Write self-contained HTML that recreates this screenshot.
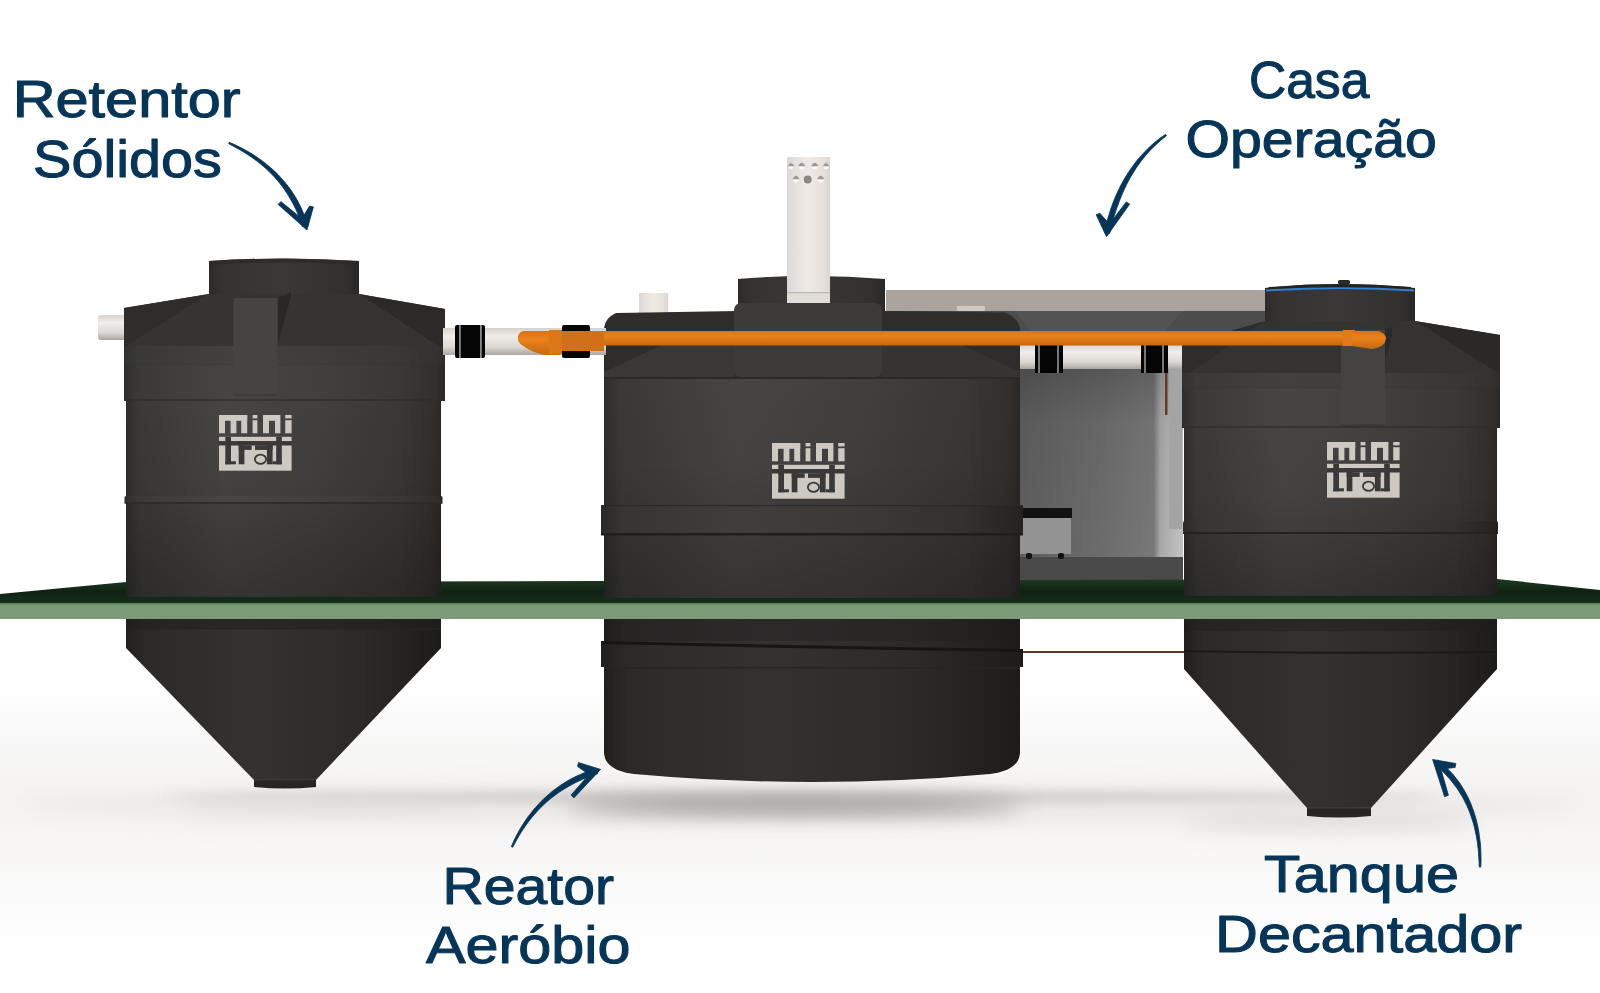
<!DOCTYPE html>
<html><head><meta charset="utf-8">
<style>
html,body{margin:0;padding:0;background:#fff;width:1600px;height:993px;overflow:hidden}
svg{display:block}
text.lb{font-family:"Liberation Sans",sans-serif;font-weight:normal;fill:#073558;stroke:#073558;stroke-width:1.1px;stroke-linejoin:round}
</style></head><body>
<svg width="1600" height="993" viewBox="0 0 1600 993">
<defs>
  <linearGradient id="body" x1="0" y1="0" x2="1" y2="0">
    <stop offset="0" stop-color="#2e2d2c"/>
    <stop offset="0.04" stop-color="#3a3938"/>
    <stop offset="0.32" stop-color="#474544"/>
    <stop offset="0.6" stop-color="#42403e"/>
    <stop offset="0.86" stop-color="#3a3735"/>
    <stop offset="0.97" stop-color="#322f2d"/>
    <stop offset="1" stop-color="#2a2725"/>
  </linearGradient>
  <linearGradient id="bodyD" x1="0" y1="0" x2="1" y2="0">
    <stop offset="0" stop-color="#2a2928"/>
    <stop offset="0.05" stop-color="#363534"/>
    <stop offset="0.32" stop-color="#403e3d"/>
    <stop offset="0.6" stop-color="#3c3a39"/>
    <stop offset="0.86" stop-color="#333130"/>
    <stop offset="1" stop-color="#242120"/>
  </linearGradient>
  <linearGradient id="low" x1="0" y1="0" x2="1" y2="0">
    <stop offset="0" stop-color="#201f1e"/>
    <stop offset="0.06" stop-color="#2b2a29"/>
    <stop offset="0.4" stop-color="#333231"/>
    <stop offset="0.75" stop-color="#2c2a29"/>
    <stop offset="1" stop-color="#1e1c1b"/>
  </linearGradient>
  <linearGradient id="dome" x1="0" y1="0" x2="1" y2="0">
    <stop offset="0" stop-color="#2c2b2a"/>
    <stop offset="0.1" stop-color="#353433"/>
    <stop offset="0.5" stop-color="#393837"/>
    <stop offset="0.9" stop-color="#333130"/>
    <stop offset="1" stop-color="#2a2827"/>
  </linearGradient>
  <linearGradient id="vsh" x1="0" y1="0" x2="0" y2="1">
    <stop offset="0" stop-color="#000" stop-opacity="0"/>
    <stop offset="0.4" stop-color="#000" stop-opacity="0.04"/>
    <stop offset="1" stop-color="#000" stop-opacity="0.25"/>
  </linearGradient>
  <linearGradient id="vshTop" x1="0" y1="0" x2="0" y2="1">
    <stop offset="0" stop-color="#000" stop-opacity="0.18"/>
    <stop offset="1" stop-color="#000" stop-opacity="0"/>
  </linearGradient>
  <linearGradient id="wall" x1="0" y1="0" x2="1" y2="0">
    <stop offset="0" stop-color="#5e5e5e"/>
    <stop offset="0.5" stop-color="#6c6c6c"/>
    <stop offset="0.82" stop-color="#787878"/>
    <stop offset="0.86" stop-color="#a8a8a8"/>
    <stop offset="1" stop-color="#c4c4c4"/>
  </linearGradient>
  <linearGradient id="wallV" x1="0" y1="0" x2="0" y2="1">
    <stop offset="0" stop-color="#000" stop-opacity="0.3"/>
    <stop offset="0.4" stop-color="#000" stop-opacity="0.05"/>
    <stop offset="1" stop-color="#000" stop-opacity="0"/>
  </linearGradient>
  <linearGradient id="pipeW" x1="0" y1="0" x2="0" y2="1">
    <stop offset="0" stop-color="#d6d1cc"/>
    <stop offset="0.3" stop-color="#f1eeeb"/>
    <stop offset="0.7" stop-color="#dcd8d4"/>
    <stop offset="1" stop-color="#aaa6a2"/>
  </linearGradient>
  <linearGradient id="pipeV" x1="0" y1="0" x2="1" y2="0">
    <stop offset="0" stop-color="#d9d8d7"/>
    <stop offset="0.15" stop-color="#e2e0df"/>
    <stop offset="0.5" stop-color="#efe9e5"/>
    <stop offset="0.85" stop-color="#e8e0da"/>
    <stop offset="1" stop-color="#dcd4ce"/>
  </linearGradient>
  <linearGradient id="orange" x1="0" y1="0" x2="0" y2="1">
    <stop offset="0" stop-color="#d8721a"/>
    <stop offset="0.35" stop-color="#ea821a"/>
    <stop offset="1" stop-color="#c66812"/>
  </linearGradient>
  <linearGradient id="greenTop" x1="0" y1="0" x2="0" y2="1">
    <stop offset="0" stop-color="#1f3a22"/>
    <stop offset="0.5" stop-color="#0f2212"/>
    <stop offset="1" stop-color="#17301a"/>
  </linearGradient>
  <linearGradient id="bgv" x1="0" y1="0" x2="0" y2="1">
    <stop offset="0" stop-color="#f3f2f1" stop-opacity="0"/>
    <stop offset="0.38" stop-color="#f3f2f1" stop-opacity="1"/>
    <stop offset="0.55" stop-color="#f6f5f4" stop-opacity="0.8"/>
    <stop offset="0.8" stop-color="#fbfbfb" stop-opacity="0.5"/>
    <stop offset="1" stop-color="#ffffff" stop-opacity="0"/>
  </linearGradient>
  <filter id="bl10" x="-30%" y="-300%" width="160%" height="700%"><feGaussianBlur stdDeviation="10"/></filter>
  <filter id="bl6" x="-30%" y="-300%" width="160%" height="700%"><feGaussianBlur stdDeviation="6"/></filter>
  <filter id="bl1"><feGaussianBlur stdDeviation="0.6"/></filter>

  
</defs>

<!-- ground shadows -->
<rect x="0" y="680" width="1600" height="313" fill="url(#bgv)"/>
<ellipse cx="800" cy="806" rx="780" ry="16" fill="#ebe9e7" filter="url(#bl10)"/>
<ellipse cx="800" cy="797" rx="640" ry="4" fill="#c2c0be" filter="url(#bl6)"/>
<ellipse cx="795" cy="806" rx="230" ry="8" fill="#92908e" filter="url(#bl10)"/>
<ellipse cx="330" cy="806" rx="150" ry="6" fill="#dedcda" filter="url(#bl10)"/>
<ellipse cx="1330" cy="822" rx="150" ry="6" fill="#d6d4d2" filter="url(#bl10)"/>
<!-- ================= CASA (behind) ================= -->
<g>
  <rect x="886" y="290" width="382" height="21" fill="#aba49e"/>
  <rect x="886" y="311" width="382" height="22" fill="#4c4c4c"/>
  <polygon points="1015,311 1183,311 1165,331 1030,331" fill="#535353"/>
  <rect x="957" y="306" width="28" height="5" rx="1" fill="#cfc9c4"/>
  <rect x="1020" y="333" width="163" height="226" fill="url(#wall)"/>
  <rect x="1020" y="333" width="163" height="226" fill="url(#wallV)"/>
  <rect x="1169" y="369" width="13" height="160" fill="#a4a4a4"/>
  <rect x="1020" y="557" width="163" height="31" fill="#4a4a4a"/>
  <rect x="1020" y="517" width="51" height="37" fill="#939393"/>
  <rect x="1020" y="508" width="52" height="10" fill="#121212"/>
  <rect x="1026" y="553" width="6" height="6" rx="2" fill="#111"/>
  <rect x="1058" y="553" width="6" height="6" rx="2" fill="#111"/>
  <rect x="1020" y="345" width="163" height="24" fill="url(#pipeW)"/>
  <rect x="1035" y="344" width="28" height="29" fill="#050505"/>
  <rect x="1038" y="344" width="2" height="29" fill="#777"/>
  <rect x="1057" y="344" width="2" height="29" fill="#777"/>
  <rect x="1141" y="344" width="27" height="29" fill="#050505"/>
  <rect x="1144" y="344" width="2" height="29" fill="#777"/>
  <rect x="1162" y="344" width="2" height="29" fill="#777"/>
  <rect x="1165" y="373" width="2.5" height="42" fill="#6b3c1c"/>
</g>

<!-- green plate -->
<polygon points="0,594 126,582 1497,579 1600,590 1600,604 0,604" fill="url(#greenTop)"/>
<rect x="0" y="603" width="1600" height="16" fill="#7b9b78"/>
<rect x="0" y="603" width="1600" height="1.5" fill="#5e7e5c"/>

<!-- ================= LEFT TANK ================= -->
<g>
  <rect x="98" y="315" width="28" height="25" rx="3" fill="url(#pipeW)"/>
  <path d="M209,261 Q284,256 359,261 L359,296 L209,296 Z" fill="url(#dome)"/>
  <path d="M209,261 Q284,256 359,261 L359,265 Q284,260 209,265 Z" fill="#2a2928" opacity="0.7"/>
  <!-- shoulder -->
  <path d="M124,308 L209,294 L359,294 L445,309 L445,401 L124,401 Z" fill="url(#body)"/>
  <path d="M124,308 L209,294 L126,346 L124,346 Z" fill="#2e2d2c"/>
  <path d="M445,309 L359,294 L438,346 L445,346 Z" fill="#2b2a29"/>
  <path d="M209,294 L359,294 L438,346 L126,346 Z" fill="#353433"/>
  <rect x="124" y="346" width="321" height="18" fill="#3a3938" opacity="0.35"/>
  <rect x="124" y="364" width="321" height="1.2" fill="#333231" opacity="0.4"/>
  <!-- body -->
  <rect x="126" y="401" width="315" height="196" fill="url(#body)"/>
  <rect x="126" y="401" width="315" height="196" fill="url(#vsh)"/>
  <rect x="124" y="399" width="321" height="2" fill="#2e2d2c" opacity="0.7"/>
  <rect x="124.5" y="496" width="318" height="7" rx="1.5" fill="url(#body)"/>
  <rect x="124.5" y="502" width="318" height="2" fill="#2a2928" opacity="0.8"/>
  <!-- handle -->
  <path d="M278,298 L291,292 L291,296 L278,344 Z" fill="#2a2827"/>
  <rect x="233.5" y="298" width="44" height="97.5" fill="#454443"/>
  <rect x="233.5" y="394.5" width="44" height="1.5" fill="#333231" opacity="0.6"/>
  <g transform="translate(219,415)">
    <g fill="#cdc8c2">
      <rect x="0" y="0" width="28.2" height="5.8"/>
      <rect x="0" y="0" width="6" height="18.3"/>
      <rect x="11.6" y="0" width="5.8" height="18.3"/>
      <rect x="22.2" y="0" width="6" height="18.3"/>
      <rect x="33.6" y="0" width="4.8" height="3.4"/>
      <rect x="33.6" y="5.2" width="4.8" height="13.1"/>
      <rect x="44" y="0" width="17" height="5.8"/>
      <rect x="44" y="0" width="6" height="18.3"/>
      <rect x="56" y="0" width="5.4" height="18.3"/>
      <rect x="66.2" y="0" width="6.4" height="3.4"/>
      <rect x="66.2" y="5.2" width="6.4" height="13.1"/>
      <rect x="0" y="21.8" width="72.6" height="4.4"/>
      <rect x="0" y="30.3" width="72.6" height="25.4"/>
    </g>
    <g fill="#3a3938">
      <rect x="6.3" y="21.8" width="5.7" height="27.5"/>
      <rect x="6.3" y="46.3" width="10.6" height="3"/>
      <rect x="19.7" y="26.2" width="5.7" height="23.1"/>
      <rect x="19.7" y="30.3" width="13" height="4.6"/>
      <rect x="47.9" y="26.2" width="5.7" height="23.1"/>
      <rect x="36" y="30.3" width="17.6" height="4.6"/>
      <rect x="57.2" y="21.8" width="5.6" height="27.5"/>
      <rect x="53.6" y="46.3" width="9.2" height="3"/>
      <rect x="0" y="26.2" width="72.6" height="4.1"/>
    </g>
    <ellipse cx="41.5" cy="44.2" rx="5.6" ry="4.6" fill="#cdc8c2" stroke="#3a3938" stroke-width="1.8"/>
  </g>
  <!-- lower -->
  <path d="M126,619 L441,619 L441,648 L316,780 L254,780 L126,648 Z" fill="url(#low)"/>
  <rect x="126" y="619" width="315" height="10" fill="#1e1d1c" opacity="0.5"/>
  <rect x="126" y="628" width="315" height="1.5" fill="#252423" opacity="0.8"/>
  <path d="M254,780 L316,780 L316,787 Q285,790 254,787 Z" fill="#262524"/>
  <rect x="254" y="779" width="62" height="1.5" fill="#3a3938"/>
</g>

<!-- ================= CENTRAL TANK ================= -->
<g>
  <rect x="639" y="293" width="29" height="21" fill="url(#pipeV)"/>
  <path d="M738,279 Q811,273 885,279 L885,312 L738,312 Z" fill="url(#dome)"/>
  <!-- shoulder -->
  <path d="M604,328 Q605,318 616,313 L738,311 L885,311 L1005,312.5 Q1018,318 1020,328 L1020,379 L604,379 Z" fill="#2e2d2c"/>
  <path d="M604,379 L604,372 L662,345 L734,345 L734,379 Z" fill="#393837"/>
  <path d="M1020,379 L1020,372 L962,345 L882,345 L882,379 Z" fill="#353433"/>
  <rect x="734" y="303" width="148" height="74" rx="7" fill="#3c3b3a"/>
  <rect x="604" y="377" width="416" height="2" fill="#2a2928"/>
  <!-- vent pipe -->
  <rect x="787" y="157" width="43" height="146" fill="url(#pipeV)"/>
  <rect x="787" y="293" width="43" height="10" fill="#e0dcd8"/>
  <rect x="787" y="292" width="43" height="1.2" fill="#b8b4b0"/>
  <g>
    <path d="M787.5,166.5 Q791,159.5 794.5,166.5 Z" fill="#9d9995"/>
    <path d="M798,166.5 Q801.7,159 805.5,166.5 Z" fill="#9d9995"/>
    <path d="M811,166.5 Q814.8,159 818.6,166.5 Z" fill="#9d9995"/>
    <path d="M822.5,166.5 Q826,159.5 829.5,166.5 Z" fill="#9d9995"/>
    <path d="M788,166.5 Q791,172 794,166.5 Z" fill="#fbfaf9"/>
    <path d="M798,166.5 Q801.7,173 805.5,166.5 Z" fill="#fbfaf9"/>
    <path d="M811,166.5 Q814.8,173 818.6,166.5 Z" fill="#fbfaf9"/>
    <path d="M823,166.5 Q826,172 829,166.5 Z" fill="#fbfaf9"/>
    <path d="M792.5,179.5 Q796,172 799.5,179.5 Z" fill="#9d9995"/>
    <path d="M817,179.5 Q820.8,172 824.5,179.5 Z" fill="#9d9995"/>
    <path d="M792.5,179.5 Q796,186 799.5,179.5 Z" fill="#fbfaf9"/>
    <path d="M817,179.5 Q820.8,186 824.5,179.5 Z" fill="#fbfaf9"/>
    <circle cx="807.7" cy="179.5" r="4" fill="#8a8784"/>
  </g>
  <!-- body -->
  <rect x="604" y="379" width="416" height="219" fill="url(#body)"/>
  <rect x="604" y="379" width="416" height="219" fill="url(#vsh)"/>
  <rect x="601" y="505" width="422" height="30" rx="2" fill="url(#bodyD)"/>
  <rect x="601" y="533" width="422" height="2.5" fill="#1f1e1d"/>
  <rect x="601" y="505" width="422" height="1.2" fill="#2a2928"/>
  <g transform="translate(772,443)">
    <g fill="#cdc8c2">
      <rect x="0" y="0" width="28.2" height="5.8"/>
      <rect x="0" y="0" width="6" height="18.3"/>
      <rect x="11.6" y="0" width="5.8" height="18.3"/>
      <rect x="22.2" y="0" width="6" height="18.3"/>
      <rect x="33.6" y="0" width="4.8" height="3.4"/>
      <rect x="33.6" y="5.2" width="4.8" height="13.1"/>
      <rect x="44" y="0" width="17" height="5.8"/>
      <rect x="44" y="0" width="6" height="18.3"/>
      <rect x="56" y="0" width="5.4" height="18.3"/>
      <rect x="66.2" y="0" width="6.4" height="3.4"/>
      <rect x="66.2" y="5.2" width="6.4" height="13.1"/>
      <rect x="0" y="21.8" width="72.6" height="4.4"/>
      <rect x="0" y="30.3" width="72.6" height="25.4"/>
    </g>
    <g fill="#3a3938">
      <rect x="6.3" y="21.8" width="5.7" height="27.5"/>
      <rect x="6.3" y="46.3" width="10.6" height="3"/>
      <rect x="19.7" y="26.2" width="5.7" height="23.1"/>
      <rect x="19.7" y="30.3" width="13" height="4.6"/>
      <rect x="47.9" y="26.2" width="5.7" height="23.1"/>
      <rect x="36" y="30.3" width="17.6" height="4.6"/>
      <rect x="57.2" y="21.8" width="5.6" height="27.5"/>
      <rect x="53.6" y="46.3" width="9.2" height="3"/>
      <rect x="0" y="26.2" width="72.6" height="4.1"/>
    </g>
    <ellipse cx="41.5" cy="44.2" rx="5.6" ry="4.6" fill="#cdc8c2" stroke="#3a3938" stroke-width="1.8"/>
  </g>
  <!-- lower -->
  <path d="M604,619 L1020,619 L1020,752 Q1020,770 990,774 Q812,790 634,774 Q604,770 604,752 Z" fill="url(#low)"/>
  <rect x="604" y="619" width="416" height="22" fill="#1f1e1d" opacity="0.35"/>
  <path d="M601,641 Q812,646 1023,649 L1023,667 Q812,668 601,667 Z" fill="url(#low)"/>
  <path d="M601,641 Q812,646 1023,649 L1023,652 Q812,649 601,644 Z" fill="#161514"/>
  <rect x="604" y="667" width="416" height="1.5" fill="#262524"/>
</g>

<!-- ================= RIGHT TANK ================= -->
<g>
  <path d="M1265,288 Q1340,280 1415,288 L1415,323 L1265,323 Z" fill="url(#dome)"/>
  <path d="M1269,287 Q1340,281 1411,287 L1411,290 L1269,290 Z" fill="#242322"/>
  <rect x="1338" y="280" width="12" height="4" rx="1.5" fill="#2a2928"/>
  <path d="M1266,290.5 Q1340,286 1414,290.5" stroke="#2f80d4" stroke-width="1.8" fill="none"/>
  <path d="M1182,345 L1265,321 L1415,321 L1500,335 L1500,428 L1182,428 Z" fill="url(#body)"/>
  <path d="M1182,345 L1265,321 L1190,373 L1182,373 Z" fill="#2e2d2c"/>
  <path d="M1500,335 L1415,321 L1498,373 L1500,373 Z" fill="#2a2928"/>
  <path d="M1265,321 L1415,321 L1498,373 L1190,373 Z" fill="#343332"/>
  <rect x="1182" y="373" width="318" height="14" fill="#3a3938" opacity="0.35"/>
  <rect x="1182" y="387" width="318" height="1.2" fill="#333231" opacity="0.4"/>
  <rect x="1184" y="428" width="313" height="168" fill="url(#body)"/>
  <rect x="1184" y="428" width="313" height="168" fill="url(#vsh)"/>
  <rect x="1182" y="426" width="318" height="2" fill="#2e2d2c" opacity="0.7"/>
  <rect x="1183" y="521" width="315" height="12" rx="2" fill="url(#bodyD)"/>
  <rect x="1183" y="532" width="315" height="2" fill="#232221"/>
  <path d="M1385,330 L1392,327 L1392,336 L1385,360 Z" fill="#2a2827"/>
  <rect x="1341" y="330" width="44" height="95.5" fill="#444342"/>
  <rect x="1341" y="424.5" width="44" height="1.5" fill="#333231" opacity="0.6"/>
  <g transform="translate(1327,442)">
    <g fill="#cdc8c2">
      <rect x="0" y="0" width="28.2" height="5.8"/>
      <rect x="0" y="0" width="6" height="18.3"/>
      <rect x="11.6" y="0" width="5.8" height="18.3"/>
      <rect x="22.2" y="0" width="6" height="18.3"/>
      <rect x="33.6" y="0" width="4.8" height="3.4"/>
      <rect x="33.6" y="5.2" width="4.8" height="13.1"/>
      <rect x="44" y="0" width="17" height="5.8"/>
      <rect x="44" y="0" width="6" height="18.3"/>
      <rect x="56" y="0" width="5.4" height="18.3"/>
      <rect x="66.2" y="0" width="6.4" height="3.4"/>
      <rect x="66.2" y="5.2" width="6.4" height="13.1"/>
      <rect x="0" y="21.8" width="72.6" height="4.4"/>
      <rect x="0" y="30.3" width="72.6" height="25.4"/>
    </g>
    <g fill="#3a3938">
      <rect x="6.3" y="21.8" width="5.7" height="27.5"/>
      <rect x="6.3" y="46.3" width="10.6" height="3"/>
      <rect x="19.7" y="26.2" width="5.7" height="23.1"/>
      <rect x="19.7" y="30.3" width="13" height="4.6"/>
      <rect x="47.9" y="26.2" width="5.7" height="23.1"/>
      <rect x="36" y="30.3" width="17.6" height="4.6"/>
      <rect x="57.2" y="21.8" width="5.6" height="27.5"/>
      <rect x="53.6" y="46.3" width="9.2" height="3"/>
      <rect x="0" y="26.2" width="72.6" height="4.1"/>
    </g>
    <ellipse cx="41.5" cy="44.2" rx="5.6" ry="4.6" fill="#cdc8c2" stroke="#3a3938" stroke-width="1.8"/>
  </g>
  <!-- lower -->
  <path d="M1184,619 L1497,619 L1497,669 L1371,808 L1307,808 L1184,669 Z" fill="url(#low)"/>
  <rect x="1184" y="619" width="313" height="12" fill="#1e1d1c" opacity="0.45"/>
  <path d="M1184,650 Q1340,653 1497,651 L1497,653 Q1340,655 1184,652 Z" fill="#1a1918"/>
  <path d="M1307,808 L1371,808 L1371,816 Q1339,819 1307,816 Z" fill="#262524"/>
  <rect x="1307" y="807" width="64" height="1.5" fill="#3a3938"/>
  <rect x="1023" y="651" width="161" height="2" fill="#5a3a22"/>
</g>

<!-- pipes between tanks -->
<rect x="443" y="328" width="163" height="27" fill="url(#pipeW)"/>
<rect x="455" y="325" width="30" height="33" rx="2" fill="#050505"/>
<rect x="459" y="325" width="1.8" height="33" fill="#888"/>
<rect x="480" y="325" width="1.8" height="33" fill="#888"/>
<rect x="562" y="325" width="28" height="33" rx="2" fill="#050505"/>
<!-- orange -->
<rect x="518" y="331" width="866" height="14.5" rx="7" fill="url(#orange)"/>
<path d="M518,338 Q518,331 526,331 L560,331 L560,355 L545,355 Q530,352 522,345 Q518,342 518,338 Z" fill="url(#orange)"/>
<rect x="549" y="330" width="13" height="24" fill="#dd7818"/>
<rect x="562" y="331" width="42" height="20" fill="#d2701a"/>
<rect x="1343" y="330" width="12" height="16" fill="#e07a1a"/>
<path d="M1352,331 L1376,331 Q1386,332 1386,339 Q1385,347 1372,349 L1352,346 Z" fill="url(#orange)"/>

<!-- labels -->
<text class="lb" x="12.7" y="117" font-size="52" textLength="227.8" lengthAdjust="spacingAndGlyphs">Retentor</text>
<text class="lb" x="33" y="177" font-size="52" textLength="188.8" lengthAdjust="spacingAndGlyphs">Sólidos</text>
<text class="lb" x="1249" y="97.5" font-size="52" textLength="120.3" lengthAdjust="spacingAndGlyphs">Casa</text>
<text class="lb" x="1185.5" y="156.5" font-size="52" textLength="251.4" lengthAdjust="spacingAndGlyphs">Operação</text>
<text class="lb" x="442.6" y="904" font-size="52" textLength="171.4" lengthAdjust="spacingAndGlyphs">Reator</text>
<text class="lb" x="426" y="963" font-size="52" textLength="204.5" lengthAdjust="spacingAndGlyphs">Aeróbio</text>
<text class="lb" x="1264" y="892" font-size="52" textLength="195" lengthAdjust="spacingAndGlyphs">Tanque</text>
<text class="lb" x="1215" y="951.5" font-size="52" textLength="307" lengthAdjust="spacingAndGlyphs">Decantador</text>

<!-- arrows -->
<g fill="#073558" stroke="#073558" stroke-width="0.8" stroke-linejoin="round">
<path d="M228.7,143.7 L232.6,145.8 L236.5,147.9 L240.3,150.0 L243.9,152.2 L247.5,154.5 L251.0,156.8 L254.3,159.2 L257.6,161.6 L260.7,164.1 L263.8,166.7 L266.7,169.3 L269.5,172.0 L272.3,174.7 L274.9,177.5 L277.4,180.4 L279.8,183.3 L282.1,186.3 L284.3,189.4 L286.4,192.5 L288.4,195.6 L290.3,198.9 L292.2,202.1 L293.9,205.5 L295.6,208.8 L297.2,212.3 L298.6,215.8 L300.0,219.4 L301.2,223.1 L302.4,226.8 L307.6,225.2 L306.4,221.4 L305.1,217.6 L303.6,213.8 L302.1,210.1 L300.5,206.5 L298.7,203.0 L296.9,199.5 L294.9,196.2 L292.8,192.9 L290.6,189.6 L288.3,186.5 L285.8,183.4 L283.3,180.4 L280.7,177.5 L278.0,174.6 L275.2,171.8 L272.2,169.1 L269.2,166.5 L266.1,163.9 L262.9,161.4 L259.5,159.0 L256.1,156.6 L252.6,154.3 L249.0,152.1 L245.2,150.0 L241.4,147.9 L237.5,146.0 L233.5,144.1 L229.3,142.3Z"/>
<path d="M307.0,230.0 L278.1,204.4 L280.9,201.6 L301.8,218.6 L309.6,206.1 L313.4,206.9Z"/>
<path d="M1165.5,134.4 L1162.4,136.5 L1159.3,138.7 L1156.3,141.1 L1153.4,143.5 L1150.6,146.0 L1147.8,148.7 L1145.1,151.4 L1142.5,154.2 L1139.9,157.0 L1137.4,160.0 L1135.0,163.0 L1132.7,166.2 L1130.4,169.4 L1128.2,172.7 L1126.1,176.1 L1124.0,179.6 L1122.0,183.1 L1120.1,186.8 L1118.3,190.5 L1116.5,194.3 L1114.8,198.2 L1113.2,202.2 L1111.7,206.3 L1110.3,210.4 L1109.0,214.7 L1107.7,219.0 L1106.5,223.4 L1105.4,227.9 L1104.4,232.4 L1109.6,233.6 L1110.7,229.1 L1111.8,224.7 L1112.9,220.4 L1114.2,216.2 L1115.5,212.1 L1116.8,208.0 L1118.3,204.1 L1119.7,200.2 L1121.3,196.3 L1122.8,192.6 L1124.5,188.9 L1126.2,185.3 L1128.0,181.8 L1129.9,178.3 L1131.8,174.9 L1133.9,171.7 L1135.9,168.4 L1138.1,165.3 L1140.3,162.2 L1142.6,159.2 L1145.0,156.3 L1147.4,153.5 L1149.9,150.7 L1152.5,148.0 L1155.2,145.4 L1157.9,142.9 L1160.7,140.4 L1163.6,138.0 L1166.5,135.6Z"/>
<path d="M1106.5,236.7 L1096.2,214.8 L1099.8,213.2 L1109.4,224.0 L1126.3,201.9 L1129.7,204.1Z"/>
<path d="M512.7,847.3 L514.7,843.5 L516.8,839.8 L518.9,836.1 L521.0,832.5 L523.3,829.1 L525.6,825.7 L527.9,822.4 L530.4,819.2 L532.9,816.2 L535.5,813.2 L538.1,810.3 L540.8,807.5 L543.6,804.8 L546.5,802.1 L549.4,799.6 L552.4,797.2 L555.5,794.9 L558.6,792.6 L561.9,790.5 L565.1,788.4 L568.5,786.5 L571.9,784.6 L575.4,782.7 L578.9,781.0 L582.6,779.3 L586.3,777.7 L590.0,776.3 L593.9,774.9 L597.8,773.6 L596.2,768.4 L592.1,769.8 L588.1,771.2 L584.2,772.7 L580.4,774.4 L576.6,776.1 L572.9,777.9 L569.3,779.8 L565.8,781.9 L562.4,784.1 L559.1,786.3 L555.8,788.7 L552.6,791.1 L549.5,793.7 L546.5,796.3 L543.6,799.0 L540.7,801.8 L538.0,804.7 L535.3,807.7 L532.7,810.8 L530.2,814.0 L527.7,817.2 L525.4,820.6 L523.1,824.1 L520.9,827.6 L518.8,831.2 L516.8,834.9 L514.8,838.8 L513.0,842.7 L511.3,846.7Z"/>
<path d="M600.6,769.4 L578.5,762.6 L577.5,766.4 L589.1,774.4 L571.1,795.1 L573.9,797.9Z"/>
<path d="M1480.8,867.0 L1481.0,862.3 L1481.0,857.6 L1480.9,853.0 L1480.7,848.5 L1480.4,844.0 L1479.9,839.7 L1479.3,835.4 L1478.7,831.1 L1477.9,827.0 L1477.0,822.9 L1476.0,818.9 L1474.8,814.9 L1473.6,811.1 L1472.2,807.3 L1470.8,803.6 L1469.2,799.9 L1467.5,796.3 L1465.6,792.9 L1463.7,789.4 L1461.6,786.1 L1459.5,782.8 L1457.2,779.7 L1454.7,776.6 L1452.2,773.6 L1449.5,770.7 L1446.7,767.9 L1443.8,765.1 L1440.8,762.5 L1437.7,759.9 L1434.3,764.1 L1437.3,766.6 L1440.2,769.1 L1442.9,771.7 L1445.6,774.4 L1448.1,777.2 L1450.6,780.0 L1452.9,783.0 L1455.2,785.9 L1457.4,788.9 L1459.4,792.1 L1461.4,795.3 L1463.3,798.5 L1465.0,801.9 L1466.7,805.3 L1468.3,808.9 L1469.7,812.5 L1471.1,816.2 L1472.3,819.9 L1473.5,823.8 L1474.5,827.7 L1475.4,831.8 L1476.3,835.9 L1477.0,840.1 L1477.6,844.3 L1478.1,848.7 L1478.5,853.1 L1478.8,857.7 L1479.1,862.3 L1479.2,867.0Z"/>
<path d="M1432.6,759.5 L1455.9,763.5 L1455.1,767.5 L1440.9,769.1 L1448.4,795.3 L1444.6,796.7Z"/>
</g>
</svg>
</body></html>
